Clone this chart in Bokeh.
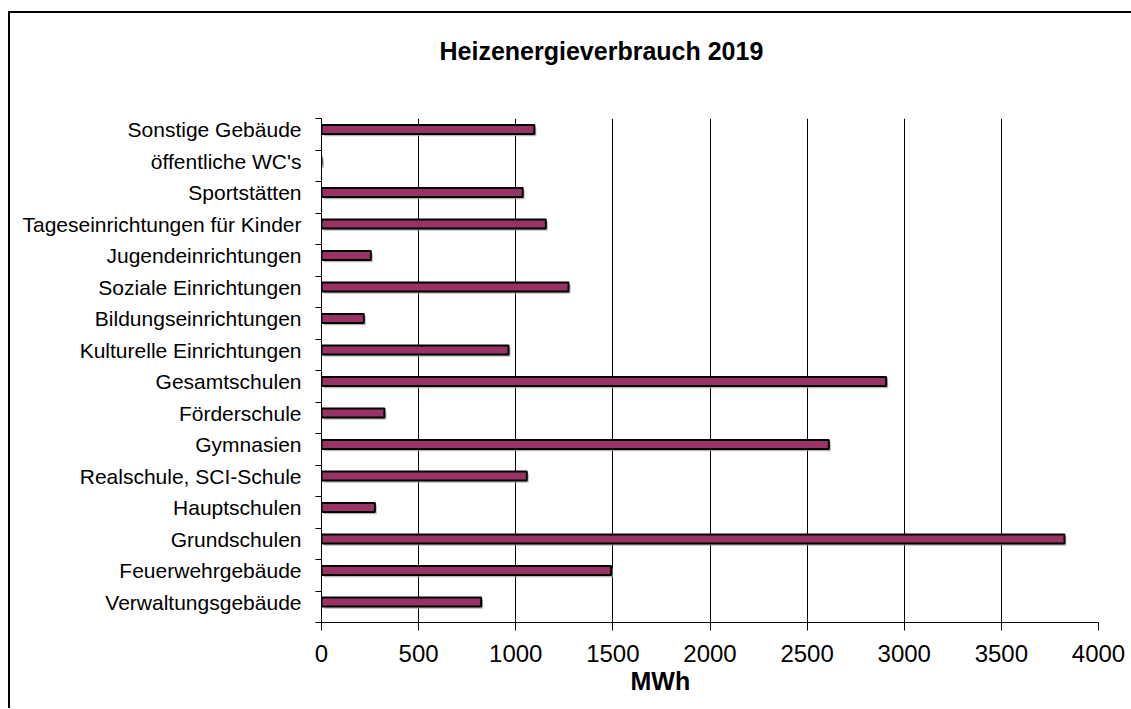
import numpy as np
from bokeh.plotting import figure
from bokeh.models import FixedTicker, Range1d, Title, LinearAxis
from bokeh.embed import file_html
from bokeh.resources import INLINE

categories = [
    "Verwaltungsgebäude",
    "Feuerwehrgebäude",
    "Grundschulen",
    "Hauptschulen",
    "Realschule, SCI-Schule",
    "Gymnasien",
    "Förderschule",
    "Gesamtschulen",
    "Kulturelle Einrichtungen",
    "Bildungseinrichtungen",
    "Soziale Einrichtungen",
    "Jugendeinrichtungen",
    "Tageseinrichtungen für Kinder",
    "Sportstätten",
    "öffentliche WC's",
    "Sonstige Gebäude",
]
values = [822, 1491, 3825, 275, 1057, 2612, 324, 2907, 963, 218, 1272, 254, 1155, 1036, 0, 1096]
x_ticks = [0, 500, 1000, 1500, 2000, 2500, 3000, 3500, 4000]
title_text = "Heizenergieverbrauch 2019"
x_label = "MWh"

FONT = "Liberation Sans"
n = len(categories)
pos = [round(i + 0.65, 2) for i in range(n)]
vals = np.array(values, dtype=float)
shadow_right = np.where(vals > 0, vals + 10, 0)

p = figure(
    width=1121, height=695,
    frame_width=777, frame_height=504,
    min_border_left=311, min_border_right=33,
    min_border_top=105, min_border_bottom=86,
    x_range=Range1d(0, 4000), y_range=Range1d(0, n),
    output_backend="svg", toolbar_location=None,
)
p.styles = {"border-left": "2px solid black", "border-top": "2px solid black",
            "margin-top": "11px", "margin-left": "8px"}
p.outline_line_color = None
p.background_fill_color = "white"
p.border_fill_color = "white"

# shadow + bars
p.hbar(y=[q - 0.07 for q in pos], left=12, right=shadow_right, height=0.29,
       fill_color="#9a9a9a", line_color=None, fill_alpha=0.7)
p.hbar(y=pos, left=0, right=values, height=0.29,
       fill_color="#993366", line_color="black", line_width=2)

# x axis
p.xaxis.ticker = FixedTicker(ticks=x_ticks)
p.xaxis.major_tick_out = 8
p.xaxis.major_tick_in = 0
p.xaxis.minor_tick_out = 0
p.xaxis.minor_tick_in = 0
p.xaxis.axis_line_color = "black"
p.xaxis.major_tick_line_color = "black"
p.xaxis.major_label_text_font = FONT
p.xaxis.major_label_text_font_size = "24px"
p.xaxis.major_label_text_color = "black"
p.xaxis.major_label_standoff = 14

# y axis
p.yaxis.ticker = FixedTicker(ticks=pos, minor_ticks=list(range(n + 1)))
p.yaxis.major_label_overrides = {pos[i]: categories[i] for i in range(n)}
p.yaxis.major_tick_out = 0
p.yaxis.major_tick_in = 0
p.yaxis.minor_tick_out = 6
p.yaxis.minor_tick_in = 0
p.yaxis.minor_tick_line_color = "black"
p.yaxis.axis_line_color = "black"
p.yaxis.major_label_text_font = FONT
p.yaxis.major_label_text_font_size = "21px"
p.yaxis.major_label_text_color = "black"
p.yaxis.major_label_standoff = 14

p.xgrid.grid_line_color = "black"
p.xgrid.grid_line_width = 1
p.ygrid.grid_line_color = None

# chart title, placed above the frame as the single label of a line-less top axis
title_x = 1441
title_axis = LinearAxis(ticker=FixedTicker(ticks=[title_x], minor_ticks=[]),
                        major_label_overrides={title_x: title_text},
                        axis_line_color=None, major_tick_line_color=None,
                        major_tick_out=0, major_tick_in=0, minor_tick_out=0,
                        minor_tick_in=0, major_label_standoff=54,
                        major_label_text_font=FONT, major_label_text_font_style="bold",
                        major_label_text_font_size="25px", major_label_text_color="black")
p.add_layout(title_axis, "above")

p.add_layout(Title(text=x_label, align="left", offset=309, standoff=4,
                   vertical_align="top", text_font=FONT, text_font_style="bold",
                   text_font_size="25px", text_color="black"), "below")

open("out.html", "w").write(file_html(p, INLINE))
